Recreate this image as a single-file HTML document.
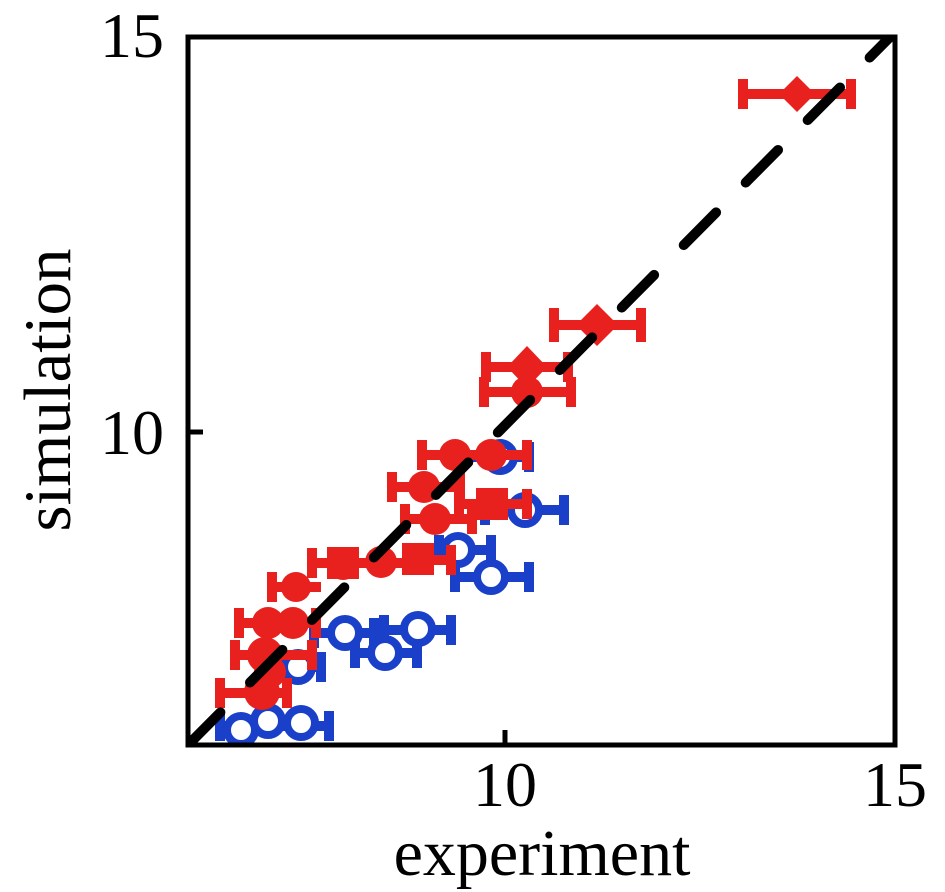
<!DOCTYPE html>
<html><head><meta charset="utf-8"><style>html,body{margin:0;padding:0;background:#fff}svg{display:block}</style></head>
<body>
<svg width="945" height="892" viewBox="0 0 945 892" xmlns="http://www.w3.org/2000/svg" font-family="Liberation Serif, serif">
<defs>
<clipPath id="c"><rect x="188" y="36" width="707" height="709"/></clipPath>
</defs>
<g clip-path="url(#c)">
<g id="blue" stroke="#1a3fc8" fill="#fff">
<g stroke-width="10">
<path d="M481 510H568M485 495v30M564 495v30"/>
<path d="M435 550H495M439 535v30M491 535v30"/>
<path d="M451 577H533M455 562v30M529 562v30"/>
<path d="M310 633H378M314 618v30M374 618v30"/>
<path d="M380 630H455M384 615v30M451 615v30"/>
<path d="M351 653H421M355 638v30M417 638v30"/>
<path d="M270 667H325M321 652v30"/>
<path d="M216 726H333M220 711v30M329 711v30"/>
<path d="M470 457H533M529 442v30"/>
</g>
<g stroke-width="8">
<circle cx="500" cy="457" r="14"/>
<circle cx="525" cy="510" r="14"/>
<circle cx="458" cy="550" r="14"/>
<circle cx="491" cy="577" r="14"/>
<circle cx="345" cy="633" r="14"/>
<circle cx="418" cy="629" r="14"/>
<circle cx="385" cy="653" r="14"/>
<circle cx="298" cy="667" r="14"/>
<circle cx="241" cy="730" r="14"/>
<circle cx="268" cy="721" r="14"/>
<circle cx="301" cy="723" r="14"/>
</g>
</g>
<g stroke="#e8211f" fill="#e8211f">
<g stroke-width="10">
<path d="M418 455H531M422 440v30M527 440v30"/>
<path d="M388 487H464M392 472v30M460 472v30"/>
<path d="M401 519H476M405 504v30M472 504v30"/>
<path d="M455 504H531M459 489v30M527 489v30"/>
<path d="M405 560H455M451 545v30"/>
<path d="M308 563H405M312 548v30"/>
<path d="M268 587H321M272 572v30"/>
<path d="M235 623H320M239 608v30M316 608v30"/>
<path d="M231 655H316M235 640v30M312 640v30"/>
<path d="M216 693H291M220 678v30M287 678v30"/>
<path d="M739 94H855M743 79v30M851 79v30"/>
<path d="M550 325H645M554 308v34M641 308v34"/>
<path d="M482 367H572M486 352v30M568 352v30"/>
<path d="M480 392H575M484 377v30M571 377v30"/>
</g>
<g stroke="none">
<circle cx="455" cy="455" r="16"/><circle cx="491" cy="455" r="16"/>
<circle cx="424" cy="487" r="16"/>
<circle cx="435" cy="519" r="16"/>
<rect x="476" y="488" width="32" height="32"/>
<circle cx="381" cy="562" r="16"/>
<rect x="402" y="543" width="32" height="32"/>
<rect x="327" y="547" width="32" height="32"/>
<circle cx="343" cy="565" r="15"/>
<circle cx="296" cy="587" r="15"/>
<circle cx="268" cy="623" r="16"/><circle cx="293" cy="623" r="16"/>
<circle cx="265" cy="655" r="18"/>
<circle cx="262" cy="692" r="18"/>
<circle cx="270" cy="672" r="16"/>
<path d="M797 76L815 94L797 112L779 94Z"/>
<path d="M597 304L618 325L597 346L576 325Z"/>
<path d="M527 346L547 367L527 388L507 367Z"/>
<circle cx="527" cy="392" r="16"/>
</g>
</g>
<line x1="188" y1="745" x2="895" y2="32" stroke="#000" stroke-width="10" stroke-linecap="round" stroke-dasharray="46 42"/>
</g>
<rect x="188" y="37" width="707" height="708" fill="none" stroke="#000" stroke-width="5"/>
<path d="M505 745v-15M188 432h15" stroke="#000" stroke-width="5"/>
<g font-size="64" fill="#000">
<text x="164" y="57" text-anchor="end">15</text>
<text x="164" y="454" text-anchor="end">10</text>
<text x="505" y="806" text-anchor="middle">10</text>
<text x="895" y="806" text-anchor="middle">15</text>
<text x="542" y="875" text-anchor="middle" font-size="66">experiment</text>
<text transform="translate(70,390) rotate(-90)" text-anchor="middle" font-size="67">simulation</text>
</g>
</svg>
</body></html>
